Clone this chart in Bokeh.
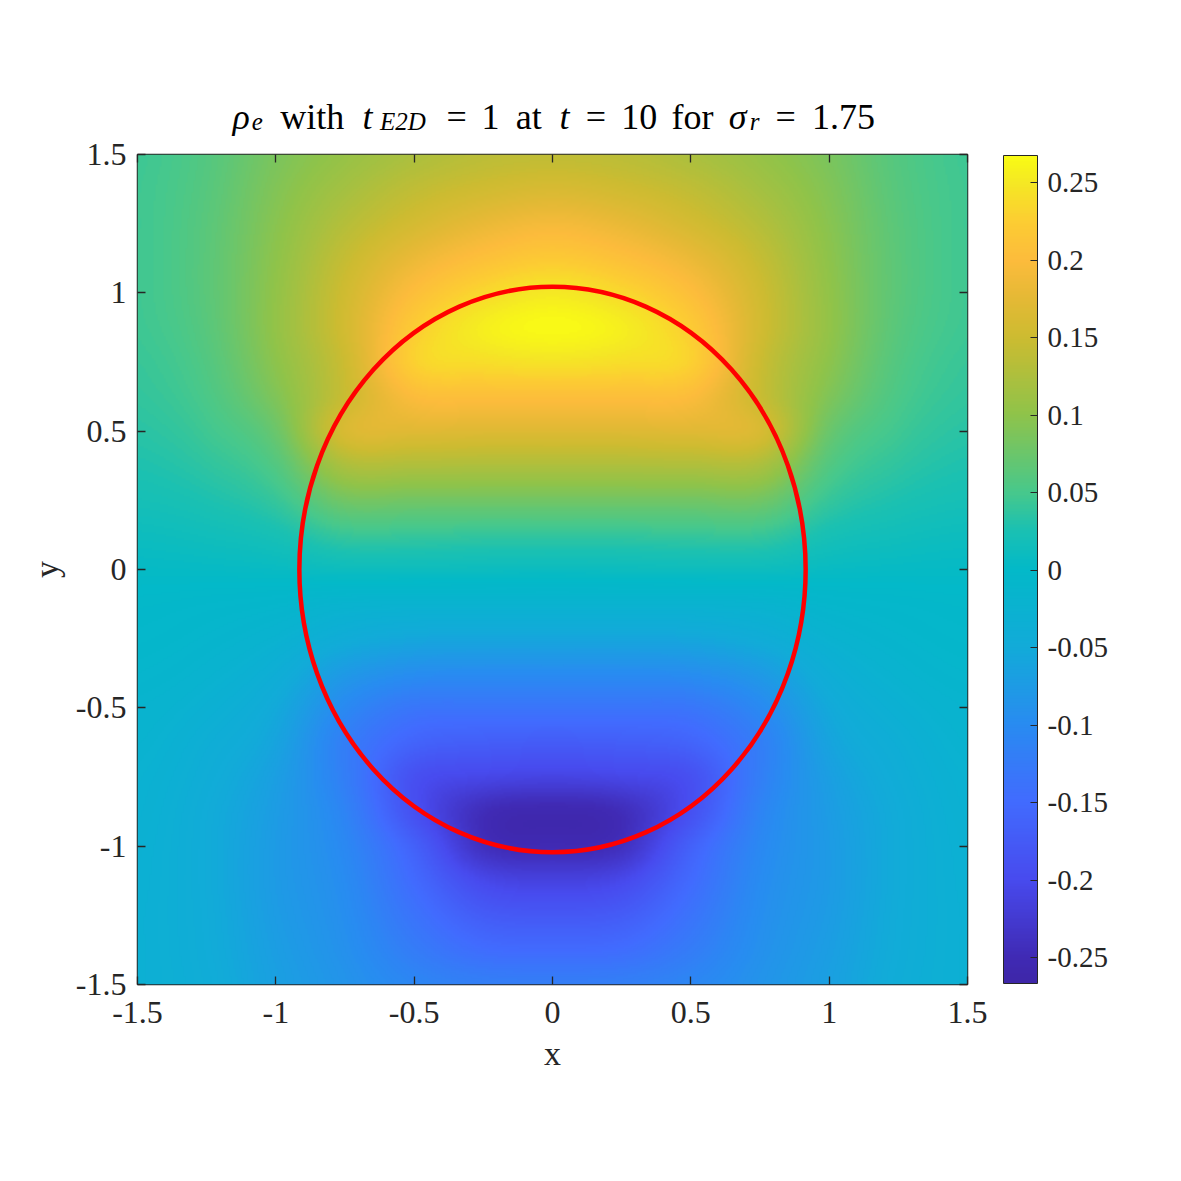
import numpy as np
from bokeh.plotting import figure
from bokeh.layouts import column
from bokeh.models import (LinearColorMapper, ColorBar, FixedTicker, LinearAxis,
                          Range1d, ColumnDataSource)
from bokeh.core.properties import value
from bokeh.embed import file_html
from bokeh.resources import INLINE

# ---------------- data ----------------
# half grid (field is mirror-symmetric in x); columns at these x
x_half = [0.0, 0.25, 0.5, 0.75, 1.0, 1.25, 1.5]
# rows from y = 1.5 down to y = 0
y_upper = [1.5, 1.375, 1.25, 1.125, 1.0, 0.875, 0.75, 0.625, 0.5, 0.375, 0.25, 0.125, 0.0]
rho_upper = [
    [0.140, 0.136, 0.124, 0.107, 0.086, 0.059, 0.045],
    [0.162, 0.154, 0.140, 0.118, 0.091, 0.061, 0.046],
    [0.192, 0.180, 0.158, 0.131, 0.096, 0.063, 0.046],
    [0.220, 0.207, 0.182, 0.144, 0.100, 0.064, 0.046],
    [0.250, 0.235, 0.204, 0.153, 0.103, 0.064, 0.046],
    [0.265, 0.255, 0.222, 0.156, 0.104, 0.062, 0.045],
    [0.245, 0.240, 0.228, 0.150, 0.099, 0.058, 0.042],
    [0.205, 0.205, 0.200, 0.148, 0.090, 0.053, 0.039],
    [0.168, 0.168, 0.170, 0.162, 0.075, 0.046, 0.034],
    [0.125, 0.125, 0.126, 0.123, 0.058, 0.037, 0.028],
    [0.080, 0.080, 0.080, 0.080, 0.041, 0.027, 0.021],
    [0.040, 0.040, 0.042, 0.042, 0.023, 0.016, 0.012],
    [0.010, 0.011, 0.012, 0.012, 0.007, 0.005, 0.004],
]
# rows from y = -0.125 down to y = -1.5
y_lower = [-0.125, -0.25, -0.375, -0.5, -0.625, -0.75, -0.875, -1.0, -1.125, -1.25, -1.375, -1.5]
rho_lower = [
    [-0.022, -0.022, -0.022, -0.019, -0.010, -0.006, -0.003],
    [-0.058, -0.058, -0.056, -0.044, -0.024, -0.013, -0.007],
    [-0.098, -0.098, -0.095, -0.076, -0.039, -0.021, -0.012],
    [-0.135, -0.135, -0.132, -0.102, -0.052, -0.030, -0.018],
    [-0.172, -0.169, -0.160, -0.119, -0.061, -0.038, -0.022],
    [-0.210, -0.205, -0.190, -0.119, -0.069, -0.043, -0.026],
    [-0.255, -0.245, -0.190, -0.111, -0.073, -0.047, -0.028],
    [-0.250, -0.240, -0.165, -0.104, -0.075, -0.048, -0.030],
    [-0.212, -0.202, -0.150, -0.099, -0.075, -0.048, -0.031],
    [-0.178, -0.172, -0.136, -0.095, -0.073, -0.047, -0.032],
    [-0.150, -0.146, -0.122, -0.091, -0.070, -0.046, -0.032],
    [-0.120, -0.118, -0.107, -0.086, -0.067, -0.044, -0.032],
]

# drop interface (ellipse)
drop_center = (0.0, 0.0)
drop_radius_x = 0.915
drop_radius_y = 1.022

clim = (-0.2665, 0.2675)
axis_ticks = [-1.5, -1, -0.5, 0, 0.5, 1, 1.5]
axis_tick_labels = ["-1.5", "-1", "-0.5", "0", "0.5", "1", "1.5"]
cbar_ticks = [-0.25, -0.2, -0.15, -0.1, -0.05, 0, 0.05, 0.1, 0.15, 0.2, 0.25]
cbar_tick_labels = ["-0.25", "-0.2", "-0.15", "-0.1", "-0.05", "0", "0.05", "0.1", "0.15", "0.2", "0.25"]

# ---------------- parula-like palette ----------------
stops = [
    (0.000, (0.242, 0.150, 0.660)),
    (0.031, (0.250, 0.166, 0.708)),
    (0.125, (0.281, 0.293, 0.935)),
    (0.219, (0.255, 0.420, 0.997)),
    (0.312, (0.160, 0.545, 0.945)),
    (0.406, (0.070, 0.670, 0.850)),
    (0.500, (0.010, 0.725, 0.785)),
    (0.547, (0.100, 0.755, 0.700)),
    (0.594, (0.280, 0.785, 0.545)),
    (0.688, (0.560, 0.765, 0.290)),
    (0.781, (0.800, 0.735, 0.190)),
    (0.830, (0.900, 0.725, 0.210)),
    (0.875, (0.990, 0.735, 0.235)),
    (0.920, (0.990, 0.800, 0.200)),
    (0.969, (0.960, 0.910, 0.140)),
    (1.000, (0.977, 0.984, 0.081)),
]
st = np.array([s[0] for s in stops])
sc = np.array([s[1] for s in stops])
palette = []
for t in np.linspace(0, 1, 256):
    r = np.interp(t, st, sc[:, 0]); g = np.interp(t, st, sc[:, 1]); b = np.interp(t, st, sc[:, 2])
    palette.append("#%02x%02x%02x" % (int(round(r * 255)), int(round(g * 255)), int(round(b * 255))))

# ---------------- assemble grid (mirror in x) and smooth for display ----------------
half = np.array(rho_upper + rho_lower)            # rows top->bottom
full = np.hstack([half[:, :0:-1], half])          # x from -1.5 to 1.5
xs_src = np.concatenate([-np.array(x_half[:0:-1]), np.array(x_half)])
ys_src = np.array(y_upper + y_lower)[::-1]        # ascending
grid = full[::-1, :]                               # rows bottom->top


def cr_resample(arr, src, dst, axis):
    h = src[1] - src[0]
    u = (dst - src[0]) / h
    n = len(src)
    i = np.clip(np.floor(u).astype(int), 0, n - 2)
    t = u - i
    idx = [np.clip(i + k, 0, n - 1) for k in (-1, 0, 1, 2)]
    w = [-0.5 * t**3 + t**2 - 0.5 * t,
         1.5 * t**3 - 2.5 * t**2 + 1,
         -1.5 * t**3 + 2 * t**2 + 0.5 * t,
         0.5 * t**3 - 0.5 * t**2]
    out = 0
    for k in range(4):
        taken = np.take(arr, idx[k], axis=axis)
        shape = [1] * arr.ndim
        shape[axis] = -1
        out = out + taken * w[k].reshape(shape)
    return out


N = 415
dst = -1.5 + (np.arange(N) + 0.5) * 3.0 / N
Z = cr_resample(grid, xs_src, dst, axis=1)
Z = cr_resample(Z, ys_src, dst, axis=0)
Z = np.clip(Z, clim[0], clim[1])

# ---------------- layout constants ----------------
FONT = "Liberation Serif"
DARK = "#262626"
TOTAL_W = 1165
TITLE_H = 136
FRAME_LEFT, FRAME_TOP, FRAME = 137, 154, 830

# ---------------- title strip (separate figure, text runs) ----------------
title_runs = [
    ("ρ", "it", 0.517), ("e", "sub", 0.35), (None, None, 0.333),
    ("with", "rm", 1.945), (None, None, 0.333),
    ("t", "it", 0.361), ("E2D", "sub", 1.55), (None, None, 0.278),
    ("=", "rm", 0.778), (None, None, 0.278), ("1", "rm", 0.5), (None, None, 0.333),
    ("at", "rm", 0.889), (None, None, 0.333),
    ("t", "it", 0.361), (None, None, 0.278), ("=", "rm", 0.778), (None, None, 0.278),
    ("10", "rm", 1.0), (None, None, 0.333),
    ("for", "rm", 1.198), (None, None, 0.333),
    ("σ", "it", 0.571), ("r", "sub", 0.338), (None, None, 0.278),
    ("=", "rm", 0.778), (None, None, 0.278), ("1.75", "rm", 1.778),
]
title_left, title_width = 231, 645       # page px
title_base, sub_base = 116, 121          # anchor y in strip coordinates
em_px = title_width / sum(r[2] for r in title_runs)
runs = {"rm": dict(x=[], y=[], text=[]), "it": dict(x=[], y=[], text=[]), "sub": dict(x=[], y=[], text=[])}
cur = 0.0
for text, kind, adv in title_runs:
    if text is not None:
        runs[kind]["x"].append(title_left + (cur + adv / 2) * em_px)
        runs[kind]["y"].append(sub_base if kind == "sub" else title_base)
        runs[kind]["text"].append(text)
    cur += adv

tfig = figure(width=TOTAL_W, height=TITLE_H,
              x_range=Range1d(FRAME_LEFT, FRAME_LEFT + FRAME), y_range=Range1d(TITLE_H, 0),
              x_axis_type=None, y_axis_type=None, output_backend="svg", toolbar_location=None,
              min_border=0, outline_line_color=None, background_fill_color="white",
              border_fill_color="white")
tfig.grid.visible = False
run_style = {"rm": ("36px", "normal"), "it": ("36px", "italic"), "sub": ("25px", "italic")}
for kind, data in runs.items():
    size, style = run_style[kind]
    tfig.text(x="x", y="y", text="text", source=ColumnDataSource(data), text_font=value(FONT),
              text_font_size=size, text_font_style=style, text_align="center",
              text_baseline="alphabetic", text_color="#000000")

# ---------------- main figure ----------------
p = figure(frame_width=FRAME, frame_height=FRAME,
           x_range=Range1d(-1.5, 1.5), y_range=Range1d(-1.5, 1.5),
           output_backend="svg", toolbar_location=None,
           min_border_left=FRAME_LEFT, min_border_top=FRAME_TOP - TITLE_H,
           min_border_right=TOTAL_W - FRAME_LEFT - FRAME, min_border_bottom=181,
           background_fill_color="white", border_fill_color="white")
p.grid.visible = False

mapper = LinearColorMapper(palette=palette, low=clim[0], high=clim[1])
p.image(image=[Z], x=-1.5, y=-1.5, dw=3, dh=3, color_mapper=mapper)

p.ellipse(x=[drop_center[0]], y=[drop_center[1]], width=[2 * drop_radius_x], height=[2 * drop_radius_y],
          fill_alpha=0, line_color="#ff0000", line_width=4.5)

p.outline_line_color = DARK
p.outline_line_width = 1.5
p.outline_line_alpha = 1.0

overrides = {v: s for v, s in zip(axis_ticks, axis_tick_labels)}
for ax in (p.xaxis[0], p.yaxis[0]):
    ax.ticker = FixedTicker(ticks=axis_ticks)
    ax.major_label_overrides = overrides
    ax.major_label_text_font = FONT
    ax.major_label_text_font_size = "32px"
    ax.major_label_text_color = DARK
    ax.major_tick_in = 8
    ax.major_tick_out = 0
    ax.minor_tick_line_color = None
    ax.major_tick_line_color = DARK
    ax.major_tick_line_width = 1.3
    ax.axis_line_color = None
    ax.axis_label_text_font = FONT
    ax.axis_label_text_font_size = "34px"
    ax.axis_label_text_font_style = "normal"
    ax.axis_label_text_color = DARK

p.xaxis[0].major_label_standoff = 17
p.xaxis[0].axis_label = "x"
p.xaxis[0].axis_label_standoff = 9
p.yaxis[0].major_label_standoff = 11
p.yaxis[0].axis_label = "y"
p.yaxis[0].axis_label_standoff = 8

# box ticks on top and right (labels not drawn)
blank = {v: "" for v in axis_ticks}
for side in ("above", "right"):
    ax = LinearAxis(ticker=FixedTicker(ticks=axis_ticks), major_label_overrides=blank,
                    major_label_text_font_size="1px", major_label_text_color=None,
                    major_label_standoff=0, major_tick_in=8, major_tick_out=0,
                    minor_tick_line_color=None, major_tick_line_color=DARK,
                    major_tick_line_width=1.3, axis_line_color=None)
    p.add_layout(ax, side)

cb = ColorBar(color_mapper=mapper, ticker=FixedTicker(ticks=cbar_ticks),
              major_label_overrides={v: s for v, s in zip(cbar_ticks, cbar_tick_labels)},
              width=34, height=828, padding=36, margin=0, location="center_left",
              bar_line_color=DARK, bar_line_width=1,
              major_tick_in=7, major_tick_out=0, major_tick_line_color=DARK, major_tick_line_width=1.2,
              minor_tick_line_color=None,
              label_standoff=10, major_label_text_font=FONT, major_label_text_font_size="29px",
              major_label_text_color=DARK, border_line_color=None, background_fill_color=None)
p.add_layout(cb, "right")

layout = column(tfig, p, spacing=0)
open("out.html", "w").write(file_html(layout, INLINE))
